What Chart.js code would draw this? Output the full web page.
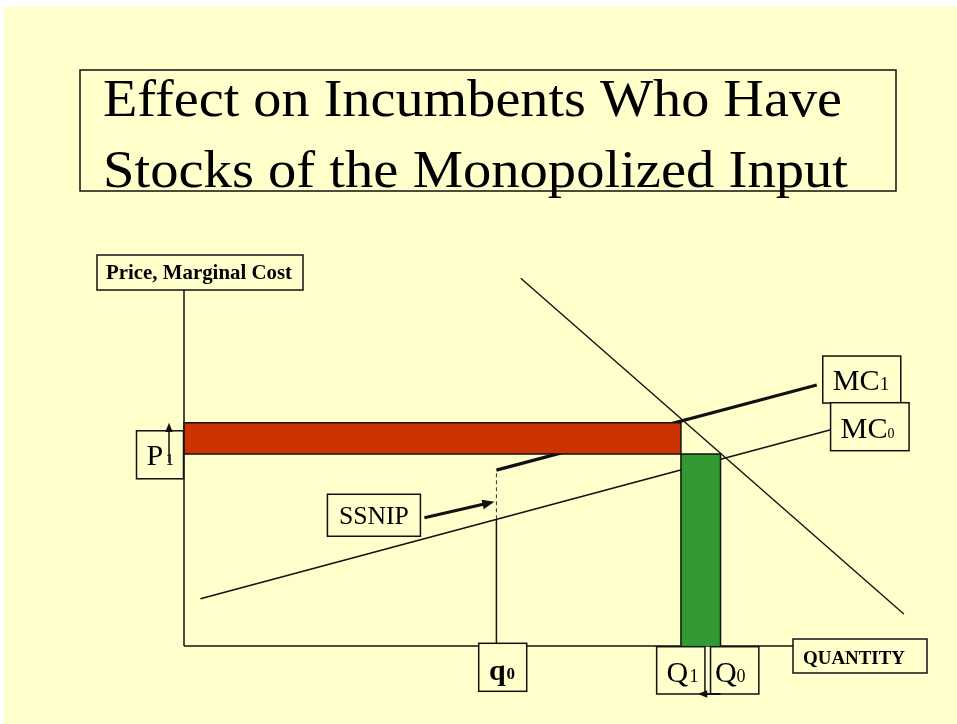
<!DOCTYPE html>
<html>
<head>
<meta charset="utf-8">
<script src="https://cdn.jsdelivr.net/npm/chart.js@4.4.0/dist/chart.umd.min.js"></script>
<style>
  html, body { margin: 0; padding: 0; background: #fff; overflow: hidden; }
  #slide { position: absolute; left: 4px; top: 7px; right: 0; bottom: 0; background: #ffffcc; }
  #wrap { position: absolute; left: 0; top: 0; width: 957px; height: 724px; }
</style>
</head>
<body>
<div id="slide"></div>
<div id="wrap"><canvas id="econChart" width="957" height="724"></canvas></div>
<script>
// Values (quantity along x, price along y, both 0..100 on the axes)
const demandQ = [55.3, 118.2];
const demandP = [103.3, 9.0];
const mc0Q = [2.7, 106.5];
const mc0P = [13.3, 60.9];
const mc1Q = [51.3, 103.9];
const mc1P = [49.4, 73.3];
const qMarks = { q0: 51.3, Q1: 81.6, Q0: 88.1 };
const pMarks = { P0: 53.9, P1: 62.7 };
const ssnipGap = [35.6, 49.4];   // MC0 and MC1 at q0
const axisEnd = 100;

const zip = (xs, ys) => xs.map((x, i) => ({ x, y: ys[i] }));
const ink = '#111';
const serif = '"Liberation Serif", "Times New Roman", serif';

function line(data, width, extra) {
  return Object.assign({
    data, borderColor: ink, borderWidth: width, pointRadius: 0,
    fill: false, tension: 0, clip: false, order: 5
  }, extra || {});
}

const { q0, Q1, Q0 } = qMarks;
const { P0, P1 } = pMarks;

const datasets = [
  // the two rectangles sit on top of the cost curves
  line([{ x: 0, y: P0 }, { x: 0, y: P1 }, { x: Q1, y: P1 }, { x: Q1, y: P0 }, { x: 0, y: P0 }], 1.5, { order: 0 }),
  line([{ x: 0, y: P1 }, { x: Q1, y: P1 }], 0, { fill: { value: P0 }, backgroundColor: '#cc3300', order: 1 }),
  line([{ x: Q1, y: 0 }, { x: Q1, y: P0 }, { x: Q0, y: P0 }, { x: Q0, y: 0 }], 1.5, { order: 0 }),
  line([{ x: Q1, y: P0 }, { x: Q0, y: P0 }], 0, { fill: { value: 0 }, backgroundColor: '#339933', order: 1 }),
  // axes
  line([{ x: 0, y: 0 }, { x: 0, y: axisEnd }], 1.5),
  line([{ x: 0, y: 0 }, { x: axisEnd, y: 0 }], 1.5),
  // curves
  line(zip(demandQ, demandP), 1.4),
  line(zip(mc0Q, mc0P), 1.5),
  line(zip(mc1Q, mc1P), 3.2),
  line([{ x: q0, y: 0 }, { x: q0, y: ssnipGap[0] }], 1.5),
  line([{ x: q0, y: ssnipGap[0] }, { x: q0, y: ssnipGap[1] }], 1, { borderDash: [4, 3], borderColor: '#333' })
];

function box(ctx, x, y, w, h) {
  ctx.save();
  ctx.fillStyle = '#ffffcc';
  ctx.fillRect(x, y, w, h);
  ctx.strokeStyle = ink;
  ctx.lineWidth = 1.5;
  ctx.strokeRect(x, y, w, h);
  ctx.restore();
}

function text(ctx, str, x, y, font) {
  ctx.font = font;
  ctx.fillText(str, x, y);
}

function fitText(ctx, str, x, y, font, width) {
  ctx.font = font;
  const m = ctx.measureText(str).width;
  ctx.save();
  ctx.translate(x, y);
  ctx.scale(width / m, 1);
  ctx.fillText(str, 0, 0);
  ctx.restore();
}

function arrow(ctx, x1, y1, x2, y2, width, head) {
  const a = Math.atan2(y2 - y1, x2 - x1);
  ctx.save();
  ctx.strokeStyle = ink;
  ctx.fillStyle = ink;
  ctx.lineWidth = width;
  ctx.beginPath();
  ctx.moveTo(x1, y1);
  ctx.lineTo(x2 - Math.cos(a) * head * 0.8, y2 - Math.sin(a) * head * 0.8);
  ctx.stroke();
  ctx.beginPath();
  ctx.moveTo(x2, y2);
  ctx.lineTo(x2 - head * Math.cos(a - 0.38), y2 - head * Math.sin(a - 0.38));
  ctx.lineTo(x2 - head * Math.cos(a + 0.38), y2 - head * Math.sin(a + 0.38));
  ctx.closePath();
  ctx.fill();
  ctx.restore();
}

const slideLabels = {
  id: 'slideLabels',
  afterDraw(chart) {
    const ctx = chart.ctx;
    const xs = chart.scales.x, ys = chart.scales.y;
    const px = v => xs.getPixelForValue(v);
    const py = v => ys.getPixelForValue(v);
    const ox = px(0), oy = py(0);
    ctx.save();
    ctx.fillStyle = '#000';
    ctx.textBaseline = 'alphabetic';

    // title
    box(ctx, 80, 70, 816, 121);
    fitText(ctx, 'Effect on Incumbents Who Have', 103, 116, '53px ' + serif, 739);
    fitText(ctx, 'Stocks of the Monopolized Input', 103, 187, '53px ' + serif, 745);

    // axis titles
    box(ctx, ox - 87, py(axisEnd) - 35, 206, 35);
    fitText(ctx, 'Price, Marginal Cost', ox - 78, py(axisEnd) - 11, 'bold 21px ' + serif, 186);
    box(ctx, px(axisEnd), oy - 7, 134, 34);
    fitText(ctx, 'QUANTITY', px(axisEnd) + 10, oy + 18, 'bold 19px ' + serif, 102);

    // P1
    const p1y = py(P1);
    box(ctx, ox - 47.5, p1y + 8, 47, 48);
    text(ctx, 'P', ox - 37.5, p1y + 42, '30px ' + serif);
    text(ctx, '1', ox - 18.5, p1y + 42, '17px ' + serif);
    arrow(ctx, ox - 15, p1y + 40, ox - 15, p1y, 1.5, 10);

    // MC labels at the end of each cost curve
    const m1x = px(mc1Q[1]), m1y = py(mc1P[1]);
    box(ctx, m1x + 6, m1y - 29, 78, 47);
    fitText(ctx, 'MC', m1x + 16, m1y + 5, '30px ' + serif, 47);
    text(ctx, '1', m1x + 63, m1y + 5, '19px ' + serif);
    const m0x = px(mc0Q[1]), m0y = py(mc0P[1]);
    box(ctx, m0x - 2, m0y - 26.5, 78.5, 48);
    fitText(ctx, 'MC', m0x + 8, m0y + 9, '30px ' + serif, 47);
    text(ctx, '0', m0x + 55, m0y + 9, '14px ' + serif);

    // SSNIP
    const qx = px(q0), gapY = py(ssnipGap[0]);
    box(ctx, qx - 169, gapY - 25, 93, 42);
    fitText(ctx, 'SSNIP', qx - 157.5, gapY + 5, '25px ' + serif, 70);
    arrow(ctx, qx - 72, gapY - 1.5, qx - 2, gapY - 17.5, 3, 13);

    // quantity labels
    box(ctx, qx - 17.7, oy - 2.7, 48, 48);
    text(ctx, 'q', qx - 7.5, oy + 34, 'bold 30px ' + serif);
    text(ctx, '0', qx + 10, oy + 33, 'bold 17px ' + serif);
    const q1x = px(Q1), q0x = px(Q0);
    box(ctx, q1x - 24.3, oy + 0.7, 48.3, 47.3);
    text(ctx, 'Q', q1x - 14.5, oy + 35.5, '30px ' + serif);
    text(ctx, '1', q1x + 8.5, oy + 35.5, '18px ' + serif);
    box(ctx, q0x - 10, oy + 0.7, 48.3, 47.3);
    text(ctx, 'Q', q0x - 5.5, oy + 35.5, '30px ' + serif);
    text(ctx, '0', q0x + 16, oy + 35.5, '18px ' + serif);
    arrow(ctx, q0x, oy + 48, q1x + 17, oy + 48, 2, 10);

    ctx.restore();
  }
};

new Chart(document.getElementById('econChart'), {
  type: 'line',
  data: { datasets },
  options: {
    responsive: false,
    animation: false,
    devicePixelRatio: 1,
    events: [],
    layout: { padding: { left: 184, top: 254.4, right: 42.2, bottom: 78 } },
    scales: {
      x: { type: 'linear', min: 0, max: 120, display: false },
      y: { type: 'linear', min: 0, max: 110, display: false }
    },
    plugins: {
      legend: { display: false },
      tooltip: { enabled: false },
      filler: { propagate: false, drawTime: 'beforeDatasetDraw' }
    }
  },
  plugins: [slideLabels]
});
</script>
</body>
</html>
